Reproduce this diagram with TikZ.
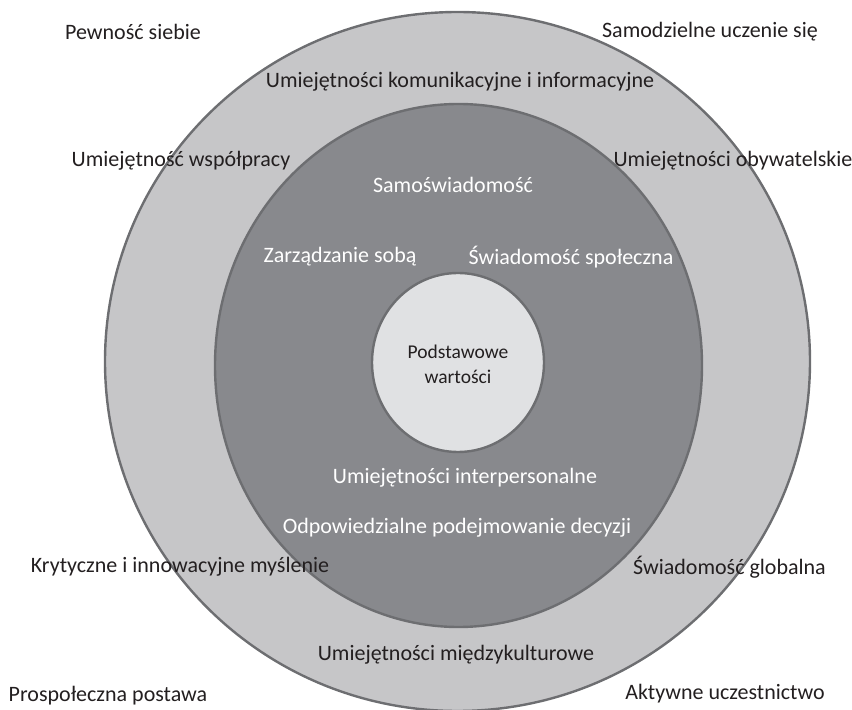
\documentclass[tikz,border=0pt]{standalone}
\usepackage{fontspec}
\setmainfont{Carlito}
\definecolor{ringout}{HTML}{C6C6C8}
\definecolor{ringmid}{HTML}{88898D}
\definecolor{ringin}{HTML}{E0E1E3}
\definecolor{ringline}{HTML}{6D6E71}
\definecolor{txtdark}{HTML}{231F20}
\tikzset{
  ring/.style={draw=ringline,line width=2.4pt},
  outlbl/.style={font=\fontsize{22}{26}\selectfont,text=txtdark,inner sep=0pt},
  midlbl/.style={font=\fontsize{22}{26}\selectfont,text=white,inner sep=0pt},
  corelbl/.style={font=\fontsize{19.5}{25}\selectfont,text=txtdark,align=center,inner sep=0pt}
}
\begin{document}
\begin{tikzpicture}[x=1pt,y=1pt,line cap=round,line join=round]
  \useasboundingbox (0,0) rectangle (852,710);
  % rings
  \draw[ring,fill=ringout] (457.5,348.5) ellipse[x radius=352.5,y radius=349.5];
  \draw[ring,fill=ringmid] (458.5,344.5) ellipse[x radius=243.5,y radius=261.5];
  \draw[ring,fill=ringin] (458,347.5) ellipse[x radius=86,y radius=89.5];
  % core
  \node[corelbl] (core) at (458,346) {Podstawowe\\wartości};
  % middle ring
  \node[midlbl] (selfaware) at (453,525) {Samoświadomość};
  \node[midlbl] (selfmgmt) at (340,453) {Zarządzanie sobą};
  \node[midlbl] (socaware) at (571,453) {Świadomość społeczna};
  \node[midlbl] (interpers) at (465,232) {Umiejętności interpersonalne};
  \node[midlbl] (decision) at (457,182) {Odpowiedzialne podejmowanie decyzji};
  % outer ring
  \node[outlbl] (commun) at (460,628) {Umiejętności komunikacyjne i informacyjne};
  \node[outlbl] (cooper) at (181,549) {Umiejętność współpracy};
  \node[outlbl] (civic) at (733,549) {Umiejętności obywatelskie};
  \node[outlbl] (critical) at (180,143) {Krytyczne i innowacyjne myślenie};
  \node[outlbl] (global) at (729.5,143) {Świadomość globalna};
  \node[outlbl] (intercult) at (456,55) {Umiejętności międzykulturowe};
  % corners
  \node[outlbl] (confid) at (133,678) {Pewność siebie};
  \node[outlbl] (selflearn) at (710,678) {Samodzielne uczenie się};
  \node[outlbl] (prosoc) at (108,14) {Prospołeczna postawa};
  \node[outlbl] (active) at (725,16) {Aktywne uczestnictwo};
\end{tikzpicture}
\end{document}
